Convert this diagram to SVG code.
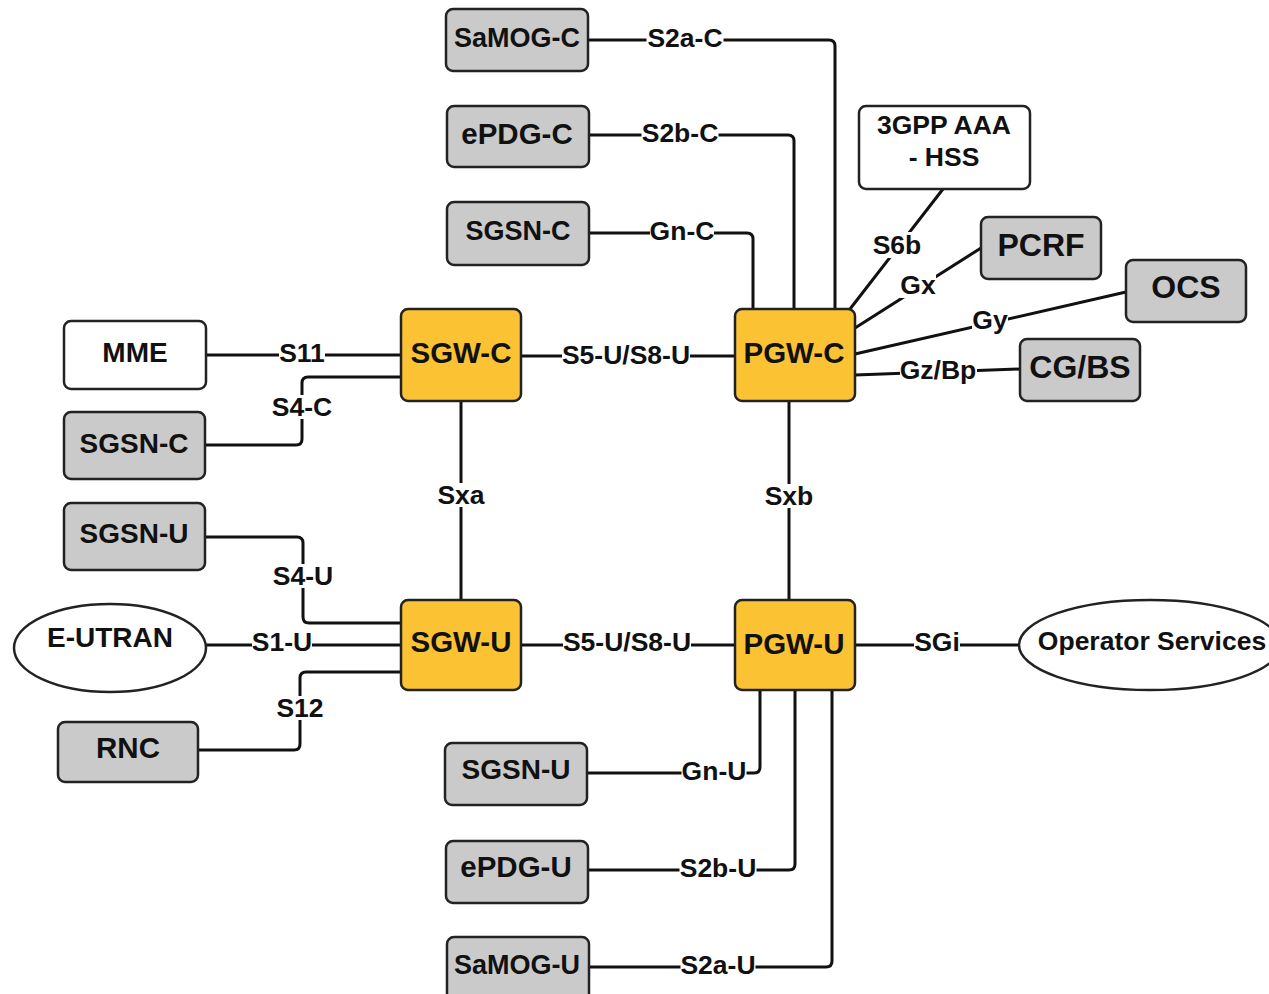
<svg xmlns="http://www.w3.org/2000/svg" width="1269" height="994" viewBox="0 0 1269 994">
<style>
text{font-family:"Liberation Sans",Arial,sans-serif;font-weight:bold;fill:#111;text-anchor:middle;dominant-baseline:central}
.box{stroke:#222;stroke-width:2.5}
.gray{fill:#cacaca}
.white{fill:#fff}
.gw{fill:#fbc334}
.nt{font-size:28px}
.gt{font-size:29.5px}
.bt{font-size:32px}
.st{font-size:26.5px}
.conn path,.conn line{fill:none;stroke:#111;stroke-width:3}
.lbl{font-size:26.5px}
.bg{fill:#fff}
</style>
<rect width="1269" height="994" fill="#fff"/>
<g id="connectors" class="conn">
<path d="M588,40 H829 Q835,40 835,46 V309"/>
<path d="M589,135 H788 Q794,135 794,141 V309"/>
<path d="M589,233 H747 Q753,233 753,239 V309"/>
<line x1="943" y1="189" x2="850" y2="309"/>
<line x1="981" y1="248" x2="855" y2="328"/>
<line x1="1126" y1="292" x2="855" y2="354"/>
<line x1="855" y1="375" x2="1020" y2="369"/>
<path d="M206,355 H401"/>
<path d="M401,377 H308 Q302,377 302,383 V439 Q302,445 296,445 H205"/>
<path d="M521,356 H735"/>
<path d="M461,401 V600"/>
<path d="M789,401 V600"/>
<path d="M205,537 H297 Q303,537 303,543 V617 Q303,623 309,623 H401"/>
<path d="M205,645 H401"/>
<path d="M401,672 H306 Q300,672 300,678 V744 Q300,750 294,750 H198"/>
<path d="M521,645 H735"/>
<path d="M855,645 H1020"/>
<path d="M760,690 V767 Q760,773 754,773 H587"/>
<path d="M795,690 V864 Q795,870 789,870 H588"/>
<path d="M832,690 V961 Q832,967 826,967 H589"/>
<g id="labels">
<rect class="bg" x="646.5" y="26" width="77" height="24"/><text class="lbl" x="685" y="38">S2a-C</text>
<rect class="bg" x="641.5" y="121" width="77" height="24"/><text class="lbl" x="680" y="133">S2b-C</text>
<rect class="bg" x="650" y="219" width="64" height="24"/><text class="lbl" x="682" y="231">Gn-C</text>
<rect class="bg" x="872" y="232" width="50" height="26"/><text class="lbl" x="897" y="245">S6b</text>
<rect class="bg" x="900" y="272" width="36" height="26"/><text class="lbl" x="918" y="285">Gx</text>
<rect class="bg" x="972" y="307" width="36" height="26"/><text class="lbl" x="990" y="320">Gy</text>
<rect class="bg" x="900" y="358" width="77" height="24"/><text class="lbl" x="938" y="370">Gz/Bp</text>
<rect class="bg" x="279" y="341" width="46" height="24"/><text class="lbl" x="302" y="353">S11</text>
<rect class="bg" x="272" y="395" width="60" height="24"/><text class="lbl" x="302" y="407">S4-C</text>
<rect class="bg" x="562" y="343" width="128" height="24"/><text class="lbl" x="626" y="355">S5-U/S8-U</text>
<rect class="bg" x="438" y="483" width="46" height="24"/><text class="lbl" x="461" y="495">Sxa</text>
<rect class="bg" x="765" y="484" width="48" height="24"/><text class="lbl" x="789" y="496">Sxb</text>
<rect class="bg" x="273" y="564" width="60" height="24"/><text class="lbl" x="303" y="576">S4-U</text>
<rect class="bg" x="252" y="630" width="60" height="24"/><text class="lbl" x="282" y="642">S1-U</text>
<rect class="bg" x="277" y="696" width="46" height="24"/><text class="lbl" x="300" y="708">S12</text>
<rect class="bg" x="563" y="630" width="128" height="24"/><text class="lbl" x="627" y="642">S5-U/S8-U</text>
<rect class="bg" x="914" y="630" width="46" height="24"/><text class="lbl" x="937" y="642">SGi</text>
<rect class="bg" x="681.5" y="759" width="65" height="24"/><text class="lbl" x="714" y="771">Gn-U</text>
<rect class="bg" x="679.5" y="856" width="77" height="24"/><text class="lbl" x="718" y="868">S2b-U</text>
<rect class="bg" x="680.5" y="953" width="75" height="24"/><text class="lbl" x="718" y="965">S2a-U</text>
</g>
</g>
<g id="samog-c"><rect class="box gray" x="446" y="9" width="142" height="62" rx="7"/><text class="nt" style="font-size:27px" x="517" y="38">SaMOG-C</text></g>
<g id="epdg-c"><rect class="box gray" x="447" y="106" width="142" height="61" rx="7"/><text class="nt" style="font-size:29.5px" x="517" y="133">ePDG-C</text></g>
<g id="sgsn-c-top"><rect class="box gray" x="447" y="202" width="142" height="63" rx="7"/><text class="nt" style="font-size:27px" x="518" y="231">SGSN-C</text></g>
<g id="aaa-hss"><rect class="box white" x="859" y="106" width="171" height="83" rx="7"/><text class="st" x="944" y="125">3GPP AAA</text><text class="st" x="944" y="157">- HSS</text></g>
<g id="pcrf"><rect class="box gray" x="981" y="217" width="120" height="62" rx="7"/><text class="bt" x="1041" y="245">PCRF</text></g>
<g id="ocs"><rect class="box gray" x="1126" y="260" width="120" height="62" rx="7"/><text class="bt" x="1186" y="287">OCS</text></g>
<g id="cgbs"><rect class="box gray" x="1020" y="339" width="120" height="62" rx="7"/><text class="bt" x="1080" y="367">CG/BS</text></g>
<g id="mme"><rect class="box white" x="64" y="321" width="142" height="68" rx="7"/><text class="nt" x="135" y="352">MME</text></g>
<g id="sgsn-c-left"><rect class="box gray" x="64" y="412" width="141" height="67" rx="7"/><text class="nt" x="134" y="443">SGSN-C</text></g>
<g id="sgw-c"><rect class="box gw" x="401" y="309" width="120" height="92" rx="7"/><text class="gt" x="461" y="352">SGW-C</text></g>
<g id="pgw-c"><rect class="box gw" x="735" y="309" width="120" height="92" rx="7"/><text class="gt" x="794" y="352">PGW-C</text></g>
<g id="sgsn-u-left"><rect class="box gray" x="64" y="503" width="141" height="67" rx="7"/><text class="nt" x="134" y="533">SGSN-U</text></g>
<g id="e-utran"><ellipse class="box white" cx="110" cy="648" rx="96" ry="44"/><text class="nt" x="110" y="637">E-UTRAN</text></g>
<g id="rnc"><rect class="box gray" x="58" y="722" width="140" height="60" rx="7"/><text class="nt" style="font-size:29.5px" x="128" y="747">RNC</text></g>
<g id="sgw-u"><rect class="box gw" x="401" y="600" width="120" height="90" rx="7"/><text class="gt" x="461" y="641">SGW-U</text></g>
<g id="pgw-u"><rect class="box gw" x="735" y="600" width="120" height="90" rx="7"/><text class="gt" x="794" y="643">PGW-U</text></g>
<g id="operator-services"><ellipse class="box white" cx="1150" cy="645" rx="131" ry="45"/><text class="st" x="1152" y="641">Operator Services</text></g>
<g id="sgsn-u-bottom"><rect class="box gray" x="445" y="743" width="142" height="62" rx="7"/><text class="nt" x="516" y="769">SGSN-U</text></g>
<g id="epdg-u"><rect class="box gray" x="446" y="841" width="142" height="62" rx="7"/><text class="nt" style="font-size:29.5px" x="516" y="866">ePDG-U</text></g>
<g id="samog-u"><rect class="box gray" x="447" y="937" width="142" height="70" rx="7"/><text class="nt" style="font-size:27px" x="517" y="965">SaMOG-U</text></g>
</svg>
